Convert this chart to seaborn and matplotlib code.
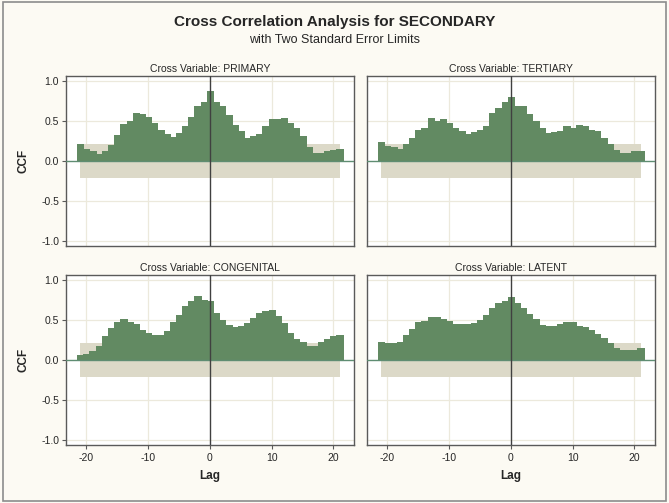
import numpy as np
import pandas as pd
import matplotlib
matplotlib.use('Agg')
import matplotlib.pyplot as plt
import seaborn as sns
from matplotlib.patches import Rectangle

# Data
lags = list(range(-21, 22))
primary = [0.21, 0.15, 0.12, 0.09, 0.13, 0.20, 0.32, 0.46, 0.50, 0.60, 0.58, 0.55, 0.47,
           0.39, 0.34, 0.30, 0.35, 0.43, 0.55, 0.69, 0.74, 0.87, 0.74, 0.68, 0.57, 0.45,
           0.37, 0.29, 0.31, 0.34, 0.43, 0.52, 0.52, 0.54, 0.47, 0.41, 0.31, 0.18, 0.10,
           0.10, 0.12, 0.14, 0.15]
tertiary = [0.24, 0.19, 0.17, 0.15, 0.21, 0.29, 0.38, 0.41, 0.53, 0.50, 0.52, 0.47, 0.41,
            0.37, 0.34, 0.36, 0.39, 0.43, 0.60, 0.66, 0.74, 0.80, 0.69, 0.68, 0.59, 0.50,
            0.41, 0.35, 0.36, 0.37, 0.43, 0.41, 0.45, 0.43, 0.39, 0.37, 0.29, 0.21, 0.14,
            0.10, 0.10, 0.12, 0.13]
congenital = [0.06, 0.07, 0.11, 0.18, 0.30, 0.40, 0.47, 0.51, 0.47, 0.45, 0.38, 0.34, 0.31,
              0.31, 0.36, 0.47, 0.56, 0.67, 0.73, 0.80, 0.75, 0.74, 0.59, 0.50, 0.44, 0.41,
              0.42, 0.46, 0.52, 0.58, 0.61, 0.62, 0.55, 0.46, 0.34, 0.26, 0.22, 0.17, 0.17,
              0.22, 0.26, 0.30, 0.31]
latent = [0.23, 0.21, 0.21, 0.22, 0.31, 0.39, 0.48, 0.49, 0.54, 0.53, 0.51, 0.49, 0.45,
          0.45, 0.45, 0.46, 0.50, 0.56, 0.65, 0.71, 0.73, 0.78, 0.71, 0.65, 0.57, 0.51,
          0.44, 0.42, 0.43, 0.45, 0.48, 0.47, 0.43, 0.41, 0.37, 0.33, 0.27, 0.21, 0.15,
          0.13, 0.13, 0.13, 0.15]
se_limit = 0.21
panels = [('PRIMARY', primary), ('TERTIARY', tertiary),
          ('CONGENITAL', congenital), ('LATENT', latent)]

# Styling
sns.set_style('white')
plt.rcParams['font.family'] = ['Liberation Sans', 'DejaVu Sans']
BAR = '#628a62'
BAND = '#dcd9c8'
GRID = '#ece9dc'
EDGE = '#5a5a5a'
BG = '#fcfaf3'

fig = plt.figure(figsize=(6.69, 5.03), dpi=100, facecolor=BG)
fig.patches.append(Rectangle((0.004, 0.004), 0.992, 0.992, transform=fig.transFigure,
                             fill=False, edgecolor='#8c8c8c', linewidth=1.2))

fig.text(0.5, 0.956, 'Cross Correlation Analysis for SECONDARY', ha='center', va='center',
         fontsize=11, fontweight='bold')
fig.text(0.5, 0.921, 'with Two Standard Error Limits', ha='center', va='center', fontsize=9)

positions = [(0.0987, 0.511), (0.5486, 0.511), (0.0987, 0.1153), (0.5486, 0.1153)]
w, h = 0.431, 0.338

for i, ((name, vals), (x0, y0)) in enumerate(zip(panels, positions)):
    ax = fig.add_axes([x0, y0, w, h])
    ax.set_facecolor('white')
    for g in [-20, -10, 10, 20]:
        ax.axvline(g, color=GRID, lw=0.9, zorder=0)
    for g in [-1.0, -0.5, 0.5, 1.0]:
        ax.axhline(g, color=GRID, lw=0.9, zorder=0)

    ax.fill_between([lags[0], lags[-1]], -se_limit, se_limit, color=BAND, lw=0, zorder=1)

    df = pd.DataFrame({'lag': lags, 'ccf': vals})
    sns.barplot(data=df, x='lag', y='ccf', native_scale=True, width=1, color=BAR,
                saturation=1, errorbar=None, ax=ax, zorder=2)
    # no seams between adjacent bars
    for p in ax.patches:
        p.set_edgecolor(BAR)
        p.set_linewidth(0.6)
        p.set_antialiased(False)

    ax.axhline(0, color='#5f8d72', lw=1.0, zorder=3)
    ax.axvline(0, color='#404040', lw=1.0, zorder=3)

    ax.set_xlim(-23.3, 23.4)
    ax.set_ylim(-1.06, 1.06)
    ax.set_xticks([-20, -10, 0, 10, 20])
    ax.set_yticks([-1.0, -0.5, 0.0, 0.5, 1.0])
    ax.set_title(f'Cross Variable: {name}', fontsize=7.5, pad=3)

    for s in ax.spines.values():
        s.set_color(EDGE)
        s.set_linewidth(1.0)

    ax.set_xlabel('')
    ax.set_ylabel('')
    if i % 2 == 0:
        ax.set_yticklabels(['-1.0', '-0.5', '0.0', '0.5', '1.0'])
        ax.set_ylabel('CCF', fontsize=8.5, fontweight='bold', labelpad=8)
        ax.tick_params(axis='y', length=3, color=EDGE, labelsize=7.5, pad=2, left=True)
    else:
        ax.set_yticklabels([])
        ax.tick_params(axis='y', left=False)
    if i >= 2:
        ax.set_xticklabels(['-20', '-10', '0', '10', '20'])
        ax.set_xlabel('Lag', fontsize=8.5, fontweight='bold', labelpad=5)
        ax.tick_params(axis='x', length=3, color=EDGE, labelsize=7.5, pad=3, bottom=True)
    else:
        ax.set_xticklabels([])
        ax.tick_params(axis='x', bottom=False)

fig.savefig('out.png', dpi=100, facecolor=BG)
